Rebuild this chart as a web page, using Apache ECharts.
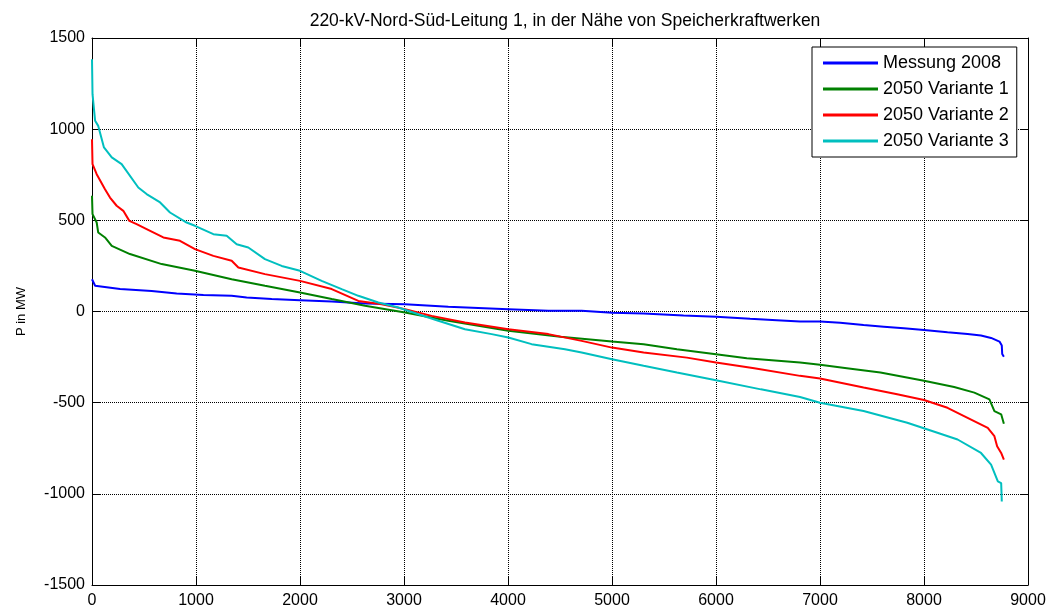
<!DOCTYPE html>
<html>
<head>
<meta charset="utf-8">
<script src="https://cdn.jsdelivr.net/npm/echarts@6/dist/echarts.min.js"></script>
<style>
  html, body { margin: 0; padding: 0; background: #fff; }
  #chart { width: 1050px; height: 610px; }
</style>
</head>
<body>
<div id="chart"></div>
<script>
var messungX = [0, 30, 270, 574, 814, 1071, 1343, 1487, 1728, 2000, 2305, 2625, 3010, 3426, 4003, 4388, 4708, 5000, 5304, 5688, 6000, 6328, 6584, 6808, 7000, 7194, 7419, 7613, 7806, 8000, 8226, 8419, 8548, 8645, 8726, 8748, 8752, 8768];
var messungY = [177, 141, 123, 113, 99, 90, 86, 77, 68, 62, 55, 44, 40, 26, 13, 4, 4, -7, -11, -22, -29, -40, -48, -55, -55, -62, -74, -83, -92, -101, -114, -123, -132, -145, -165, -187, -233, -248];

var var1X = [0, 5, 45, 60, 125, 190, 365, 670, 990, 1343, 1663, 2000, 2305, 2625, 3010, 3426, 4003, 4504, 5000, 5304, 5624, 6000, 6296, 6808, 7000, 7258, 7581, 8000, 8290, 8484, 8629, 8677, 8742, 8768];
var var1Y = [635, 534, 488, 433, 406, 360, 315, 260, 223, 177, 141, 104, 68, 31, -5, -51, -106, -139, -165, -179, -207, -234, -256, -280, -292, -311, -335, -380, -414, -445, -482, -546, -564, -616];

var var2X = [0, 5, 45, 125, 173, 237, 301, 359, 429, 525, 686, 846, 990, 1167, 1343, 1407, 1663, 2000, 2305, 2561, 2785, 3010, 3266, 3586, 4003, 4388, 4708, 5000, 5304, 5720, 6000, 6368, 6808, 7000, 7419, 7742, 8000, 8226, 8419, 8613, 8677, 8703, 8742, 8768];
var var2Y = [945, 808, 753, 671, 625, 580, 552, 497, 479, 452, 406, 388, 342, 305, 278, 241, 205, 168, 123, 58, 40, 13, -24, -60, -97, -124, -161, -198, -225, -253, -280, -311, -353, -368, -417, -454, -485, -528, -583, -638, -684, -739, -776, -812];

var var3X = [0, 5, 30, 60, 115, 190, 285, 445, 525, 655, 750, 910, 990, 1167, 1295, 1391, 1503, 1663, 1824, 2000, 2208, 2401, 2561, 2753, 2945, 3138, 3330, 3586, 3843, 4003, 4227, 4548, 4708, 5000, 5304, 5624, 6000, 6432, 6808, 7000, 7419, 7839, 8129, 8323, 8548, 8645, 8710, 8742, 8748];
var var3Y = [1384, 1192, 1046, 1018, 900, 845, 808, 680, 644, 598, 543, 488, 470, 424, 415, 369, 351, 287, 250, 223, 168, 123, 86, 49, 22, -15, -51, -97, -124, -143, -179, -207, -225, -262, -298, -335, -377, -427, -469, -500, -546, -610, -665, -702, -776, -840, -932, -941, -1042];

var seriesNames = ['Messung 2008', '2050 Variante 1', '2050 Variante 2', '2050 Variante 3'];
var seriesColors = ['#0000ff', '#008000', '#ff0000', '#00bfbf'];

function zip(xs, ys) {
	var out = [];
	for (var i = 0; i < xs.length; i++) {
		out.push([xs[i], ys[i]]);
	}
	return out;
}

var allData = [zip(messungX, messungY), zip(var1X, var1Y), zip(var2X, var2Y), zip(var3X, var3Y)];

var seriesList = [];
for (var i = 0; i < seriesNames.length; i++) {
	seriesList.push({
		name: seriesNames[i],
		type: 'line',
		showSymbol: false,
		symbol: 'none',
		animation: false,
		data: allData[i],
		lineStyle: { color: seriesColors[i], width: 2 },
		itemStyle: { color: seriesColors[i] }
	});
}

var fontName = '"Liberation Sans", Arial, sans-serif';

// keine Tausendertrennzeichen wie in MATLAB
function plainLabel(v) {
	return String(v);
}

var myChart = echarts.init(document.getElementById('chart'));
var option = {
	backgroundColor: '#ffffff',
	textStyle: { fontFamily: fontName, color: '#000' },
	title: {
		text: '220-kV-Nord-Süd-Leitung 1, in der Nähe von Speicherkraftwerken',
		left: 560,
		textAlign: 'center',
		top: 7,
		textStyle: { fontFamily: fontName, fontSize: 17.5, fontWeight: 'normal', color: '#000' }
	},
	legend: {
		data: seriesNames,
		orient: 'vertical',
		left: 812,
		top: 47,
		padding: [6, 8, 6, 11],
		itemWidth: 55,
		itemHeight: 3,
		itemGap: 6,
		icon: 'rect',
		backgroundColor: '#fff',
		borderColor: '#000',
		borderWidth: 1,
		textStyle: { fontFamily: fontName, fontSize: 18, color: '#000', lineHeight: 20 }
	},
	grid: { left: 92, right: 22, top: 38, bottom: 25, containLabel: false },
	xAxis: [{
		type: 'value',
		min: 0,
		max: 9000,
		interval: 1000,
		axisLine: { show: true, onZero: false, lineStyle: { color: '#000', width: 1 } },
		axisTick: { show: true, inside: true, length: 8, lineStyle: { color: '#000' } },
		axisLabel: { color: '#000', fontSize: 16, margin: 8, formatter: plainLabel },
		splitLine: { show: true, lineStyle: { color: '#000', type: 'dotted', width: 1 } }
	}, {
		type: 'value',
		position: 'top',
		min: 0,
		max: 9000,
		interval: 1000,
		axisLine: { show: true, onZero: false, lineStyle: { color: '#000', width: 1 } },
		axisTick: { show: true, inside: true, length: 8, lineStyle: { color: '#000' } },
		axisLabel: { show: false },
		splitLine: { show: false }
	}],
	yAxis: [{
		type: 'value',
		min: -1500,
		max: 1500,
		interval: 500,
		name: 'P in MW',
		nameLocation: 'middle',
		nameGap: 64,
		nameTextStyle: { fontFamily: fontName, fontSize: 13, color: '#000' },
		axisLine: { show: true, onZero: false, lineStyle: { color: '#000', width: 1 } },
		axisTick: { show: true, inside: true, length: 8, lineStyle: { color: '#000' } },
		axisLabel: { color: '#000', fontSize: 16, margin: 7, formatter: plainLabel },
		splitLine: { show: true, lineStyle: { color: '#000', type: 'dotted', width: 1 } }
	}, {
		type: 'value',
		position: 'right',
		min: -1500,
		max: 1500,
		interval: 500,
		axisLine: { show: true, onZero: false, lineStyle: { color: '#000', width: 1 } },
		axisTick: { show: true, inside: true, length: 8, lineStyle: { color: '#000' } },
		axisLabel: { show: false },
		splitLine: { show: false }
	}],
	series: seriesList
};
myChart.setOption(option);
</script>
</body>
</html>
